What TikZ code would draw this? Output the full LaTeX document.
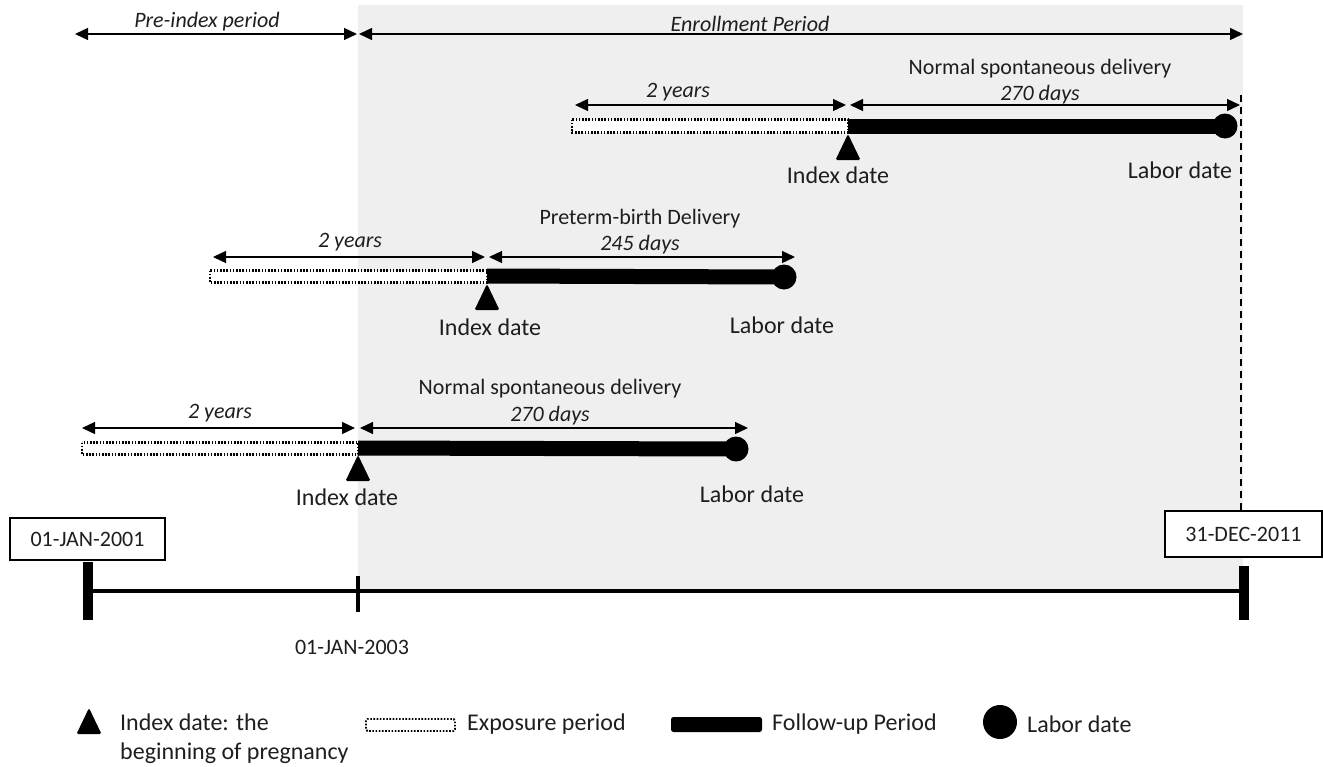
\documentclass[tikz,border=0pt]{standalone}
\usepackage{fontspec}
\setmainfont{Carlito}
\usetikzlibrary{arrows.meta,shapes.geometric}
\definecolor{bggray}{RGB}{239,239,239}
\definecolor{txt}{RGB}{30,30,30}
\tikzset{
  span/.style={line width=1.3pt,{Triangle[length=13pt,width=12pt]}-{Triangle[length=13pt,width=12pt]}},
  ital/.style={font=\fontsize{22}{26}\selectfont\itshape,text=txt,inner sep=0pt},
  ttl/.style={font=\fontsize{22}{26}\selectfont,text=txt,inner sep=0pt},
  lbl/.style={font=\fontsize{24}{29}\selectfont,text=txt,inner sep=0pt},
  expo/.style={draw=black,line width=2.2pt,dash pattern=on 1.6pt off 1.6pt,fill=white},
  fu/.style={line width=15pt},
  dot/.style={circle,fill=black,inner sep=0pt,minimum size=25pt},
  datebox/.style={draw=black,line width=1.8pt,fill=white,font=\fontsize{22}{26}\selectfont,text=txt,inner sep=0pt},
  pics/idxtri/.style={code={\fill[rounded corners=1.5pt] (0,0) -- (12.5,26) -- (-12.5,26) -- cycle;}},
}
\begin{document}
\begin{tikzpicture}[x=1pt,y=-1pt]
\useasboundingbox (0,0) rectangle (1323,766);
\fill[bggray] (358,5) rectangle (1243,590);

% top periods
\coordinate (pa) at (75,34); \coordinate (pb) at (357,34);
\coordinate (ea) at (359,34); \coordinate (eb) at (1243,34);
\draw[span] (pa) -- (pb);
\draw[span] (ea) -- (eb);
\node[ital] (pre) at (207,22) {Pre-index period};
\node[ital] (enr) at (750,24) {Enrollment Period};

% ---------- row 1 ----------
\coordinate (r1a) at (575,105); \coordinate (r1b) at (846,105);
\coordinate (r1c) at (850,105); \coordinate (r1d) at (1240,105);
\draw[span] (r1a) -- (r1b);
\draw[span] (r1c) -- (r1d);
\node[ital] (y1) at (678,92) {2 years};
\node[ttl] (n1) at (1040,69) {Normal spontaneous delivery};
\node[ital] (d1) at (1040,95) {270 days};
\draw[expo] (572,119.5) rectangle (848,132.5);
\coordinate (i1) at (848,126);
\node[dot] (c1) at (1225,126) {};
\draw[fu] (i1) -- (c1.center);
\coordinate (t1) at (848,134);
\pic at (t1) {idxtri};
\node[lbl] (il1) at (838,175) {Index date};
\node[lbl] (ll1) at (1180,170) {Labor date};

% ---------- row 2 ----------
\coordinate (r2a) at (213,257); \coordinate (r2b) at (485,257);
\coordinate (r2c) at (489,257); \coordinate (r2d) at (795,257);
\draw[span] (r2a) -- (r2b);
\draw[span] (r2c) -- (r2d);
\node[ital] (y2) at (350,242) {2 years};
\node[ttl] (n2) at (640,219) {Preterm-birth Delivery};
\node[ital] (d2) at (640,245) {245 days};
\draw[expo] (210,270.5) rectangle (487,282.5);
\coordinate (i2) at (487,276);
\node[dot] (c2) at (784,277) {};
\draw[fu] (i2) -- (c2.center);
\coordinate (t2) at (487,284);
\pic at (t2) {idxtri};
\node[lbl] (il2) at (490,327) {Index date};
\node[lbl] (ll2) at (782,325) {Labor date};

% ---------- row 3 ----------
\coordinate (r3a) at (82,428); \coordinate (r3b) at (355,428);
\coordinate (r3c) at (360,428); \coordinate (r3d) at (748,428);
\draw[span] (r3a) -- (r3b);
\draw[span] (r3c) -- (r3d);
\node[ital] (y3) at (220,413) {2 years};
\node[ttl] (n3) at (550,389) {Normal spontaneous delivery};
\node[ital] (d3) at (550,416) {270 days};
\draw[expo] (82,442.5) rectangle (358,454.5);
\coordinate (i3) at (358,448);
\node[dot] (c3) at (736,449) {};
\draw[fu] (i3) -- (c3.center);
\coordinate (t3) at (358,455);
\pic at (t3) {idxtri};
\node[lbl] (il3) at (347,497) {Index date};
\node[lbl] (ll3) at (752,494) {Labor date};

% ---------- axis ----------
\node[datebox,minimum width=155pt,minimum height=42pt] (b1) at (87.5,539) {01-JAN-2001};
\node[datebox,minimum width=157pt,minimum height=46pt] (b2) at (1243.5,534) {31-DEC-2011};
\coordinate (dtop) at (1241,95);
\draw[line width=2pt,dash pattern=on 7pt off 5pt] (dtop) -- (dtop |- b2.north);
\coordinate (ax0) at (88,591); \coordinate (ax1) at (358,591); \coordinate (ax2) at (1244,591);
\draw[line width=4.5pt] (ax0) -- (ax2);
\draw[line width=10pt] (88,562) -- (88,620);
\draw[line width=4.5pt] (358,576) -- (358,612);
\draw[line width=10pt] (1244,566) -- (1244,620);
\node[ttl] (d03) at (352,647) {01-JAN-2003};

% ---------- legend ----------
\coordinate (lt) at (89,708);
\pic at (lt) {idxtri};
\node[lbl,anchor=west,align=left] (ltx) at (120,739) {Index date: the\\beginning of pregnancy};
\draw[expo,line width=1.8pt,rounded corners=1.5pt] (366,719) rectangle (455,731);
\node[lbl,anchor=west] (lex) at (467,724) {Exposure period};
\fill[rounded corners=2.5pt] (671,717) rectangle (762,732);
\node[lbl,anchor=west] (lfu) at (772,724) {Follow-up Period};
\node[dot,minimum size=34pt] (lc) at (1000,722) {};
\node[lbl,anchor=west] (llb) at (1027,724) {Labor date};
\end{tikzpicture}
\end{document}
